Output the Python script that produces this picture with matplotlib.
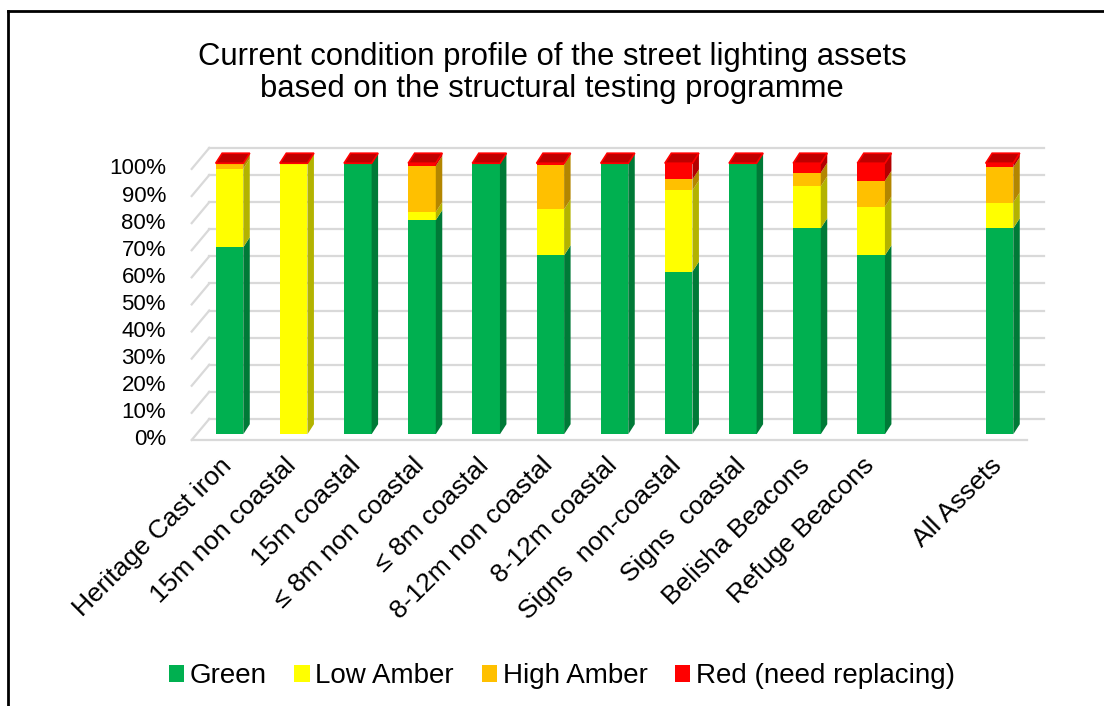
import matplotlib
matplotlib.use("Agg")
import matplotlib.pyplot as plt
from matplotlib.patches import Polygon, Patch
from matplotlib.lines import Line2D
import numpy as np

plt.rcParams['font.family'] = ['Liberation Sans', 'DejaVu Sans']

categories = ["Heritage Cast iron", "15m non coastal", "15m coastal", "\u2264 8m non coastal",
              "\u2264 8m coastal", "8-12m non coastal", "8-12m coastal", "Signs  non-coastal",
              "Signs  coastal", "Belisha Beacons", "Refuge Beacons", "", "All Assets"]
green = [69, 0, 100, 79, 100, 66, 100, 60, 100, 76, 66, 0, 76]
low_amber = [29, 100, 0, 3, 0, 17, 0, 30, 0, 15.5, 18, 0, 9.5]
high_amber = [2, 0, 0, 17, 0, 16.5, 0, 4, 0, 5, 9.5, 0, 13]
red = [0, 0, 0, 1, 0, 0.5, 0, 6, 0, 3.5, 6.5, 0, 1.5]
series_names = ["Green", "Low Amber", "High Amber", "Red (need replacing)"]
yticks = [0, 10, 20, 30, 40, 50, 60, 70, 80, 90, 100]

front_colors = ["#00B050", "#FFFF00", "#FFC000", "#FF0000"]
side_colors = ["#007A37", "#B3B300", "#B38600", "#B30000"]
top_color = "#C00000"

fig = plt.figure(figsize=(11.04, 7.06), dpi=100)
ax = fig.add_axes([0.1730, 0.3734, 0.7672, 0.4261])
ax.set_xlim(-0.6, 12.6)
ax.set_ylim(-3, 108)
ax.axis("off")

# depth of the bars and of the back wall, in data units
w = 0.43
bdx, bdy = 0.101, 3.7
front_x0, back_x0 = -0.589, -0.315
front_off, back_off = -2.1, 5.64

grid_kw = dict(color="#D9D9D9", lw=1.6, clip_on=False, zorder=1)
for v in yticks:
    ax.plot([back_x0, 12.69], [v + back_off, v + back_off], **grid_kw)
    ax.plot([front_x0, back_x0], [v + front_off, v + back_off], **grid_kw)
    ax.text(-0.99, v + front_off, f"{v}%", ha="right", va="center", fontsize=16)
ax.plot([front_x0, 12.43], [front_off, front_off], **grid_kw)

x = np.arange(len(categories))
series = [np.array(green, float), np.array(low_amber, float),
          np.array(high_amber, float), np.array(red, float)]
bottom = np.zeros(len(categories))
for vals, fc, sc in zip(series, front_colors, side_colors):
    ax.bar(x, vals, w, bottom=bottom, color=fc, zorder=3, linewidth=0)
    for i in range(len(categories)):
        if vals[i] <= 0:
            continue
        xr = x[i] + w / 2
        b, t = bottom[i], bottom[i] + vals[i]
        ax.add_patch(Polygon([(xr, b), (xr + bdx, b + bdy), (xr + bdx, t + bdy), (xr, t)],
                             closed=True, facecolor=sc, edgecolor="none", zorder=3))
    bottom = bottom + vals

# red cap on top of every bar
for i in range(len(categories)):
    if bottom[i] <= 0:
        continue
    t = bottom[i]
    ax.add_patch(Polygon([(x[i] - w / 2, t), (x[i] + w / 2, t),
                          (x[i] + w / 2 + bdx, t + bdy), (x[i] - w / 2 + bdx, t + bdy)],
                         closed=True, facecolor=top_color, edgecolor="#FF0000",
                         linewidth=1.2, zorder=4))

for i, lab in enumerate(categories):
    if lab:
        ax.text(x[i] - 0.15, -7, lab, rotation=45, ha="right", va="top",
                rotation_mode="anchor", fontsize=19)

fig.text(0.5, 1 - 73 / 706,
         "Current condition profile of the street lighting assets\nbased on the structural testing programme",
         ha="center", va="center", fontsize=22.3, linespacing=1.1)

handles = [Patch(facecolor=c, edgecolor="none") for c in front_colors]
fig.legend(handles, series_names, loc="center", bbox_to_anchor=(0.509, 1 - 676 / 706),
           ncol=4, frameon=False, fontsize=20, handlelength=0.55, handleheight=0.55,
           handletextpad=0.2, columnspacing=1.0)

# chart border (top and left edges only visible)
fig.add_artist(Line2D([8 / 1104, 1], [1 - 11 / 706, 1 - 11 / 706], color="black", lw=2))
fig.add_artist(Line2D([8 / 1104, 8 / 1104], [0, 1 - 11 / 706], color="black", lw=2))

plt.savefig("out.png", dpi=100)
